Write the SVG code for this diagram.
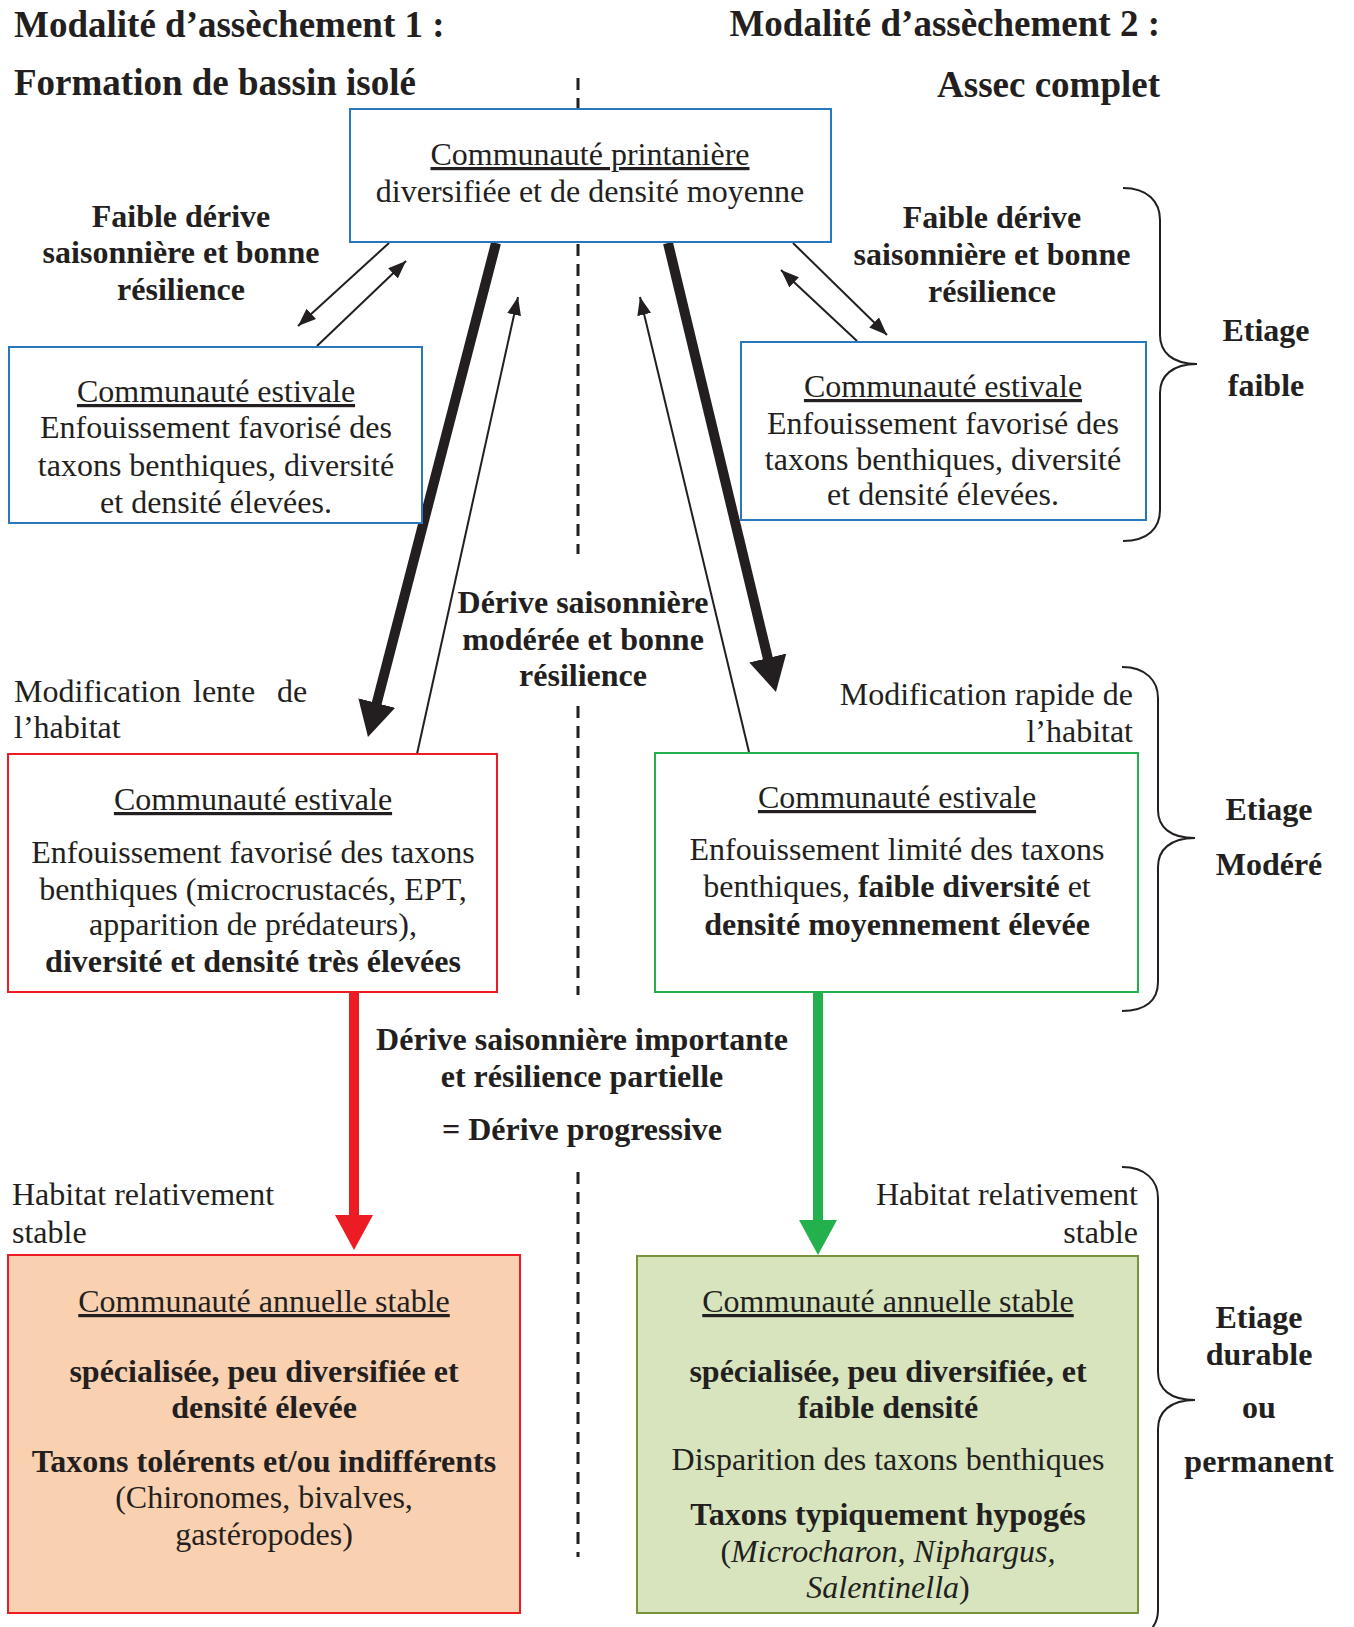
<svg xmlns="http://www.w3.org/2000/svg" width="1354" height="1627" viewBox="0 0 1354 1627">
<style>
text{font-family:"Liberation Serif","Times New Roman",serif;fill:#231F20;font-size:32px}
.t{font-size:37px;font-weight:bold}
.b{font-weight:bold}
.c{text-anchor:middle}
.e{text-anchor:end}
.u{text-decoration:underline}
.i{font-style:italic}
.thin{stroke:#231F20;stroke-width:2;fill:none}
.brace{stroke:#231F20;stroke-width:2;fill:none}
</style>
<defs>
<marker id="ah" markerUnits="userSpaceOnUse" markerWidth="20" markerHeight="14" refX="18" refY="7" orient="auto"><path d="M0,0 L18,7 L0,14 Z" fill="#231F20"/></marker>
<marker id="ahK" markerUnits="userSpaceOnUse" markerWidth="36" markerHeight="38" refX="1" refY="19" orient="auto"><path d="M0,0 L35,19 L0,38 Z" fill="#231F20"/></marker>
<marker id="ahR" markerUnits="userSpaceOnUse" markerWidth="36" markerHeight="38" refX="1" refY="19" orient="auto"><path d="M0,0 L35,19 L0,38 Z" fill="#ED1C24"/></marker>
<marker id="ahG" markerUnits="userSpaceOnUse" markerWidth="36" markerHeight="38" refX="1" refY="19" orient="auto"><path d="M0,0 L35,19 L0,38 Z" fill="#22B14C"/></marker>
</defs>
<rect width="1354" height="1627" fill="#FFFFFF"/>

<g id="titles">
<text class="t" x="14" y="37">Modalité d’assèchement 1 :</text>
<text class="t" x="14" y="95">Formation de bassin isolé</text>
<text class="t e" x="1160" y="36">Modalité d’assèchement 2 :</text>
<text class="t e" x="1160" y="97">Assec complet</text>
</g>

<g id="divider">
<line x1="578" y1="78" x2="578" y2="108" stroke="#231F20" stroke-width="3" stroke-dasharray="12 8"/>
<line x1="578" y1="244" x2="578" y2="554" stroke="#231F20" stroke-width="3" stroke-dasharray="12 8"/>
<line x1="578" y1="706" x2="578" y2="995" stroke="#231F20" stroke-width="3" stroke-dasharray="12 8"/>
<line x1="578" y1="1172" x2="578" y2="1557" stroke="#231F20" stroke-width="3" stroke-dasharray="12 8"/>
</g>

<g id="connectors">
<line class="thin" x1="389" y1="243" x2="298" y2="326" marker-end="url(#ah)"/>
<line class="thin" x1="317" y1="346" x2="406" y2="261" marker-end="url(#ah)"/>
<line class="thin" x1="793" y1="243" x2="887" y2="335" marker-end="url(#ah)"/>
<line class="thin" x1="857" y1="341" x2="781" y2="270" marker-end="url(#ah)"/>
<line class="thin" x1="417" y1="754" x2="518" y2="297" marker-end="url(#ah)"/>
<line class="thin" x1="749" y1="752" x2="640" y2="297" marker-end="url(#ah)"/>
<line x1="496" y1="243" x2="376.5" y2="704" stroke="#231F20" stroke-width="10" marker-end="url(#ahK)"/>
<line x1="668" y1="243" x2="768" y2="659" stroke="#231F20" stroke-width="10" marker-end="url(#ahK)"/>
<line x1="354" y1="992" x2="354" y2="1216" stroke="#ED1C24" stroke-width="10" marker-end="url(#ahR)"/>
<line x1="818" y1="992" x2="818" y2="1221" stroke="#22B14C" stroke-width="10" marker-end="url(#ahG)"/>
</g>

<g id="node-printaniere">
<rect x="350" y="109" width="481" height="133" fill="#FFFFFF" stroke="#2878C0" stroke-width="2"/>
<text class="c u" x="590" y="165">Communauté printanière</text>
<text class="c" x="590" y="202">diversifiée et de densité moyenne</text>
</g>

<g id="label-left-faible">
<text class="b c" x="181" y="227">Faible dérive</text>
<text class="b c" x="181" y="263">saisonnière et bonne</text>
<text class="b c" x="181" y="300">résilience</text>
</g>

<g id="label-right-faible">
<text class="b c" x="992" y="228">Faible dérive</text>
<text class="b c" x="992" y="265">saisonnière et bonne</text>
<text class="b c" x="992" y="302">résilience</text>
</g>

<g id="node-estivale-1a">
<rect x="9" y="347" width="413" height="176" fill="#FFFFFF" stroke="#2878C0" stroke-width="2"/>
<text class="c u" x="216" y="402">Communauté estivale</text>
<text class="c" x="216" y="438">Enfouissement favorisé des</text>
<text class="c" x="216" y="476">taxons benthiques, diversité</text>
<text class="c" x="216" y="513">et densité élevées.</text>
</g>

<g id="node-estivale-2a">
<rect x="741" y="342" width="405" height="178" fill="#FFFFFF" stroke="#2878C0" stroke-width="2"/>
<text class="c u" x="943" y="397">Communauté estivale</text>
<text class="c" x="943" y="434">Enfouissement favorisé des</text>
<text class="c" x="943" y="470">taxons benthiques, diversité</text>
<text class="c" x="943" y="505">et densité élevées.</text>
</g>

<g id="label-moderee">
<text class="b c" x="583" y="613">Dérive saisonnière</text>
<text class="b c" x="583" y="650">modérée et bonne</text>
<text class="b c" x="583" y="686">résilience</text>
</g>

<g id="label-habitat">
<text x="14" y="702">Modification</text>
<text x="193" y="702">lente</text>
<text x="277" y="702">de</text>
<text x="14" y="738">l’habitat</text>
<text class="e" x="1133" y="705">Modification rapide de</text>
<text class="e" x="1133" y="742">l’habitat</text>
<text x="12" y="1205">Habitat relativement</text>
<text x="12" y="1243">stable</text>
<text class="e" x="1138" y="1205">Habitat relativement</text>
<text class="e" x="1138" y="1243">stable</text>
</g>

<g id="node-estivale-1b">
<rect x="8" y="754" width="489" height="238" fill="#FFFFFF" stroke="#ED1C24" stroke-width="2"/>
<text class="c u" x="253" y="810">Communauté estivale</text>
<text class="c" x="253" y="863">Enfouissement favorisé des taxons</text>
<text class="c" x="253" y="900">benthiques (microcrustacés, EPT,</text>
<text class="c" x="253" y="935">apparition de prédateurs),</text>
<text class="c b" x="253" y="972">diversité et densité très élevées</text>
</g>

<g id="node-estivale-2b">
<rect x="655" y="753" width="483" height="239" fill="#FFFFFF" stroke="#22B14C" stroke-width="2"/>
<text class="c u" x="897" y="808">Communauté estivale</text>
<text class="c" x="897" y="860">Enfouissement limité des taxons</text>
<text class="c" x="897" y="897">benthiques, <tspan class="b">faible diversité</tspan> et</text>
<text class="c b" x="897" y="935">densité moyennement élevée</text>
</g>

<g id="label-progressive">
<text class="b c" x="582" y="1050">Dérive saisonnière importante</text>
<text class="b c" x="582" y="1087">et résilience partielle</text>
<text class="b c" x="582" y="1140">= Dérive progressive</text>
</g>

<g id="node-annuelle-1">
<rect x="8" y="1255" width="512" height="358" fill="#F9D0B0" stroke="#ED1C24" stroke-width="2"/>
<text class="c u" x="264" y="1312">Communauté annuelle stable</text>
<text class="c b" x="264" y="1382">spécialisée, peu diversifiée et</text>
<text class="c b" x="264" y="1418">densité élevée</text>
<text class="c b" x="264" y="1472">Taxons tolérents et/ou indifférents</text>
<text class="c" x="264" y="1508">(Chironomes, bivalves,</text>
<text class="c" x="264" y="1545">gastéropodes)</text>
</g>

<g id="node-annuelle-2">
<rect x="637" y="1256" width="501" height="357" fill="#D7E4BD" stroke="#77933C" stroke-width="2"/>
<text class="c u" x="888" y="1312">Communauté annuelle stable</text>
<text class="c b" x="888" y="1382">spécialisée, peu diversifiée, et</text>
<text class="c b" x="888" y="1418">faible densité</text>
<text class="c" x="888" y="1470">Disparition des taxons benthiques</text>
<text class="c b" x="888" y="1525">Taxons typiquement hypogés</text>
<text class="c" x="888" y="1562">(<tspan class="i">Microcharon, Niphargus,</tspan></text>
<text class="c" x="888" y="1598"><tspan class="i">Salentinella</tspan>)</text>
</g>

<g id="brace-faible">
<path class="brace" d="M1123,188 C1148,188 1160,202 1160,220 L1160,335 C1160,352 1172,364 1197,364 C1172,364 1160,376 1160,393 L1160,510 C1160,528 1148,541 1123,541"/>
<text class="b c" x="1266" y="341">Etiage</text>
<text class="b c" x="1266" y="396">faible</text>
</g>

<g id="brace-modere">
<path class="brace" d="M1122,667 C1146,667 1158,681 1158,698 L1158,810 C1158,827 1170,838 1195,838 C1170,838 1158,850 1158,867 L1158,982 C1158,1000 1146,1011 1122,1011"/>
<text class="b c" x="1269" y="820">Etiage</text>
<text class="b c" x="1269" y="875">Modéré</text>
</g>

<g id="brace-durable">
<path class="brace" d="M1122,1167 C1146,1167 1158,1181 1158,1198 L1158,1372 C1158,1389 1170,1400 1195,1400 C1170,1400 1158,1412 1158,1429 L1158,1610 C1158,1627 1146,1640 1122,1640"/>
<text class="b c" x="1259" y="1328">Etiage</text>
<text class="b c" x="1259" y="1365">durable</text>
<text class="b c" x="1259" y="1418">ou</text>
<text class="b c" x="1259" y="1472">permanent</text>
</g>
</svg>
